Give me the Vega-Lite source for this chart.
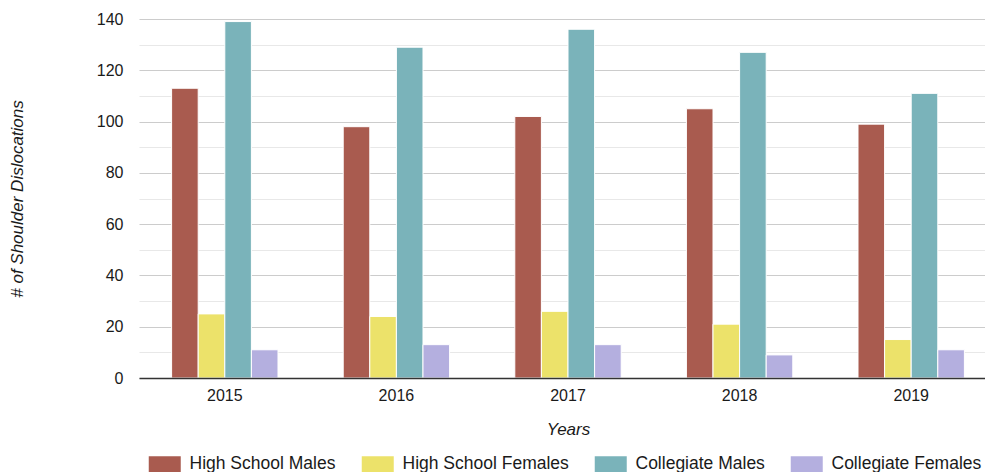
{
  "$schema": "https://vega.github.io/schema/vega-lite/v6.json",
  "autosize": {"type": "none"},
  "padding": {"left": 139, "top": 19, "right": 0, "bottom": 94},
  "width": 858,
  "height": 359,
  "background": "white",
  "config": {
    "font": "Liberation Sans",
    "view": {"stroke": null}
  },
  "data": {
    "values": [
      {"year": "2015", "group": "High School Males", "count": 113},
      {"year": "2015", "group": "High School Females", "count": 25},
      {"year": "2015", "group": "Collegiate Males", "count": 139},
      {"year": "2015", "group": "Collegiate Females", "count": 11},
      {"year": "2016", "group": "High School Males", "count": 98},
      {"year": "2016", "group": "High School Females", "count": 24},
      {"year": "2016", "group": "Collegiate Males", "count": 129},
      {"year": "2016", "group": "Collegiate Females", "count": 13},
      {"year": "2017", "group": "High School Males", "count": 102},
      {"year": "2017", "group": "High School Females", "count": 26},
      {"year": "2017", "group": "Collegiate Males", "count": 136},
      {"year": "2017", "group": "Collegiate Females", "count": 13},
      {"year": "2018", "group": "High School Males", "count": 105},
      {"year": "2018", "group": "High School Females", "count": 21},
      {"year": "2018", "group": "Collegiate Males", "count": 127},
      {"year": "2018", "group": "Collegiate Females", "count": 9},
      {"year": "2019", "group": "High School Males", "count": 99},
      {"year": "2019", "group": "High School Females", "count": 15},
      {"year": "2019", "group": "Collegiate Males", "count": 111},
      {"year": "2019", "group": "Collegiate Females", "count": 11}
    ]
  },
  "mark": {"type": "bar", "stroke": "white", "strokeWidth": 1},
  "encoding": {
    "x": {
      "field": "year",
      "type": "nominal",
      "scale": {"paddingInner": 0.38, "paddingOuter": 0.19},
      "axis": {
        "title": "Years",
        "titleFontSize": 17,
        "titleFontStyle": "italic",
        "titleFontWeight": "normal",
        "titleColor": "#1a1a1a",
        "titlePadding": 18,
        "labelAngle": 0,
        "labelFontSize": 16,
        "labelColor": "#1a1a1a",
        "labelPadding": 9,
        "ticks": false,
        "domainColor": "#333333",
        "domainWidth": 1.5,
        "zindex": 1
      }
    },
    "xOffset": {
      "field": "group",
      "type": "nominal",
      "sort": ["High School Males", "High School Females", "Collegiate Males", "Collegiate Females"]
    },
    "y": {
      "field": "count",
      "type": "quantitative",
      "scale": {"domain": [0, 140], "nice": false},
      "axis": {
        "title": "# of Shoulder Dislocations",
        "titleFontSize": 17,
        "titleFontStyle": "italic",
        "titleFontWeight": "normal",
        "titleColor": "#1a1a1a",
        "titleAngle": -90,
        "titleX": -122,
        "titleY": 179.5,
        "titleAlign": "center",
        "titleBaseline": "middle",
        "values": [0, 10, 20, 30, 40, 50, 60, 70, 80, 90, 100, 110, 120, 130, 140],
        "labelExpr": "datum.value % 20 === 0 ? datum.label : ''",
        "labelFontSize": 16,
        "labelColor": "#1a1a1a",
        "labelPadding": 16,
        "ticks": false,
        "domain": false,
        "gridColor": {"condition": {"test": "datum.value % 20 === 0", "value": "#cccccc"}, "value": "#e8e8e8"},
        "gridWidth": 1.2
      }
    },
    "color": {
      "field": "group",
      "type": "nominal",
      "sort": ["High School Males", "High School Females", "Collegiate Males", "Collegiate Females"],
      "scale": {
        "domain": ["High School Males", "High School Females", "Collegiate Males", "Collegiate Females"],
        "range": ["#a95b4f", "#ece26a", "#7ab3ba", "#b4afdf"]
      },
      "legend": {
        "title": null,
        "orient": "none",
        "direction": "horizontal",
        "legendX": 17,
        "legendY": 436,
        "padding": 0,
        "symbolType": "M-2,-1H2V1H-2Z",
        "symbolSize": 256,
        "symbolStrokeWidth": 0,
        "symbolOpacity": 1,
        "labelFontSize": 17.5,
        "labelColor": "#1a1a1a",
        "labelOffset": 16,
        "columnPadding": 25,
        "labelLimit": 300
      }
    }
  }
}
